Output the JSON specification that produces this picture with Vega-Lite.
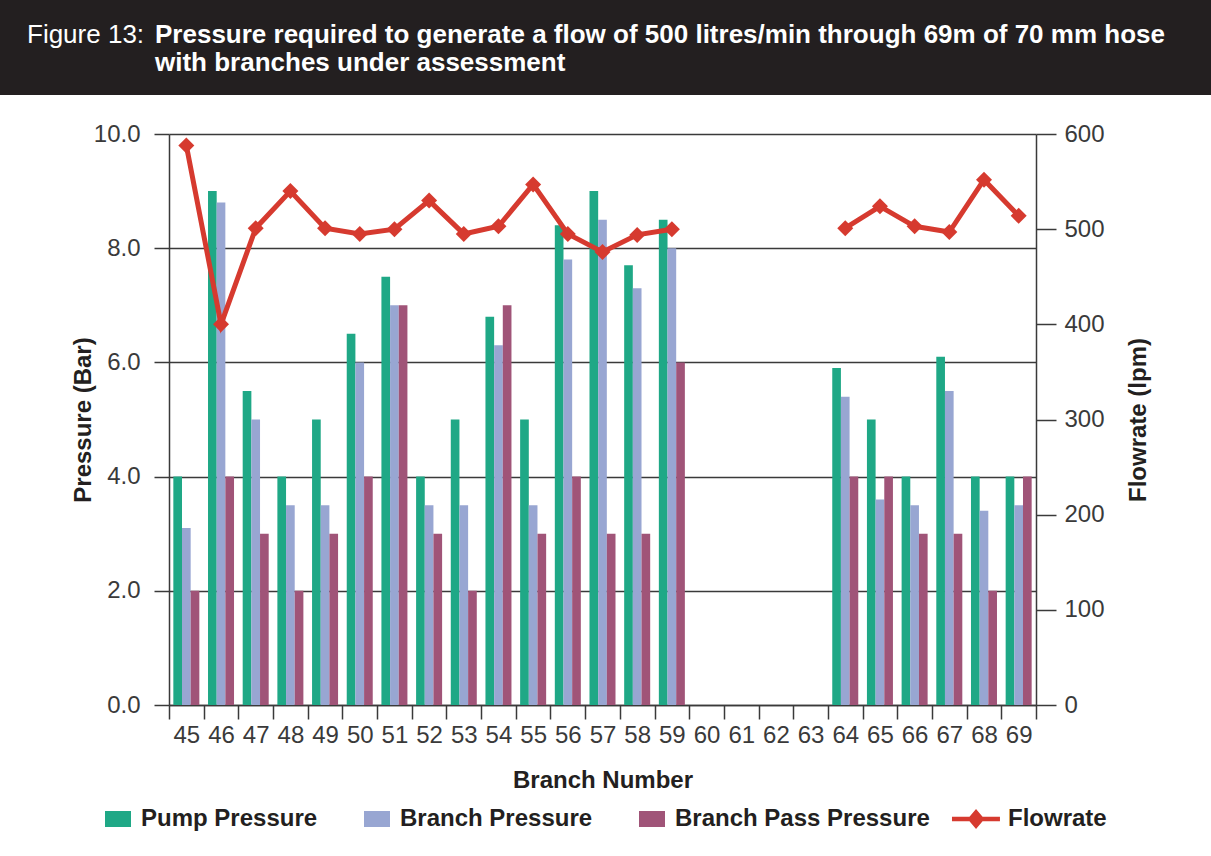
{
  "$schema": "https://vega.github.io/schema/vega-lite/v6.json",
  "padding": 0,
  "background": "white",
  "spacing": 27,
  "config": {
    "view": {"stroke": null},
    "font": "Liberation Sans",
    "axis": {"labelFont": "Liberation Sans", "titleFont": "Liberation Sans"}
  },
  "datasets": {
    "pressure": [
      {"Branch": "45", "Series": "Pump Pressure", "Pressure": 4.0},
      {"Branch": "45", "Series": "Branch Pressure", "Pressure": 3.1},
      {"Branch": "45", "Series": "Branch Pass Pressure", "Pressure": 2.0},
      {"Branch": "46", "Series": "Pump Pressure", "Pressure": 9.0},
      {"Branch": "46", "Series": "Branch Pressure", "Pressure": 8.8},
      {"Branch": "46", "Series": "Branch Pass Pressure", "Pressure": 4.0},
      {"Branch": "47", "Series": "Pump Pressure", "Pressure": 5.5},
      {"Branch": "47", "Series": "Branch Pressure", "Pressure": 5.0},
      {"Branch": "47", "Series": "Branch Pass Pressure", "Pressure": 3.0},
      {"Branch": "48", "Series": "Pump Pressure", "Pressure": 4.0},
      {"Branch": "48", "Series": "Branch Pressure", "Pressure": 3.5},
      {"Branch": "48", "Series": "Branch Pass Pressure", "Pressure": 2.0},
      {"Branch": "49", "Series": "Pump Pressure", "Pressure": 5.0},
      {"Branch": "49", "Series": "Branch Pressure", "Pressure": 3.5},
      {"Branch": "49", "Series": "Branch Pass Pressure", "Pressure": 3.0},
      {"Branch": "50", "Series": "Pump Pressure", "Pressure": 6.5},
      {"Branch": "50", "Series": "Branch Pressure", "Pressure": 6.0},
      {"Branch": "50", "Series": "Branch Pass Pressure", "Pressure": 4.0},
      {"Branch": "51", "Series": "Pump Pressure", "Pressure": 7.5},
      {"Branch": "51", "Series": "Branch Pressure", "Pressure": 7.0},
      {"Branch": "51", "Series": "Branch Pass Pressure", "Pressure": 7.0},
      {"Branch": "52", "Series": "Pump Pressure", "Pressure": 4.0},
      {"Branch": "52", "Series": "Branch Pressure", "Pressure": 3.5},
      {"Branch": "52", "Series": "Branch Pass Pressure", "Pressure": 3.0},
      {"Branch": "53", "Series": "Pump Pressure", "Pressure": 5.0},
      {"Branch": "53", "Series": "Branch Pressure", "Pressure": 3.5},
      {"Branch": "53", "Series": "Branch Pass Pressure", "Pressure": 2.0},
      {"Branch": "54", "Series": "Pump Pressure", "Pressure": 6.8},
      {"Branch": "54", "Series": "Branch Pressure", "Pressure": 6.3},
      {"Branch": "54", "Series": "Branch Pass Pressure", "Pressure": 7.0},
      {"Branch": "55", "Series": "Pump Pressure", "Pressure": 5.0},
      {"Branch": "55", "Series": "Branch Pressure", "Pressure": 3.5},
      {"Branch": "55", "Series": "Branch Pass Pressure", "Pressure": 3.0},
      {"Branch": "56", "Series": "Pump Pressure", "Pressure": 8.4},
      {"Branch": "56", "Series": "Branch Pressure", "Pressure": 7.8},
      {"Branch": "56", "Series": "Branch Pass Pressure", "Pressure": 4.0},
      {"Branch": "57", "Series": "Pump Pressure", "Pressure": 9.0},
      {"Branch": "57", "Series": "Branch Pressure", "Pressure": 8.5},
      {"Branch": "57", "Series": "Branch Pass Pressure", "Pressure": 3.0},
      {"Branch": "58", "Series": "Pump Pressure", "Pressure": 7.7},
      {"Branch": "58", "Series": "Branch Pressure", "Pressure": 7.3},
      {"Branch": "58", "Series": "Branch Pass Pressure", "Pressure": 3.0},
      {"Branch": "59", "Series": "Pump Pressure", "Pressure": 8.5},
      {"Branch": "59", "Series": "Branch Pressure", "Pressure": 8.0},
      {"Branch": "59", "Series": "Branch Pass Pressure", "Pressure": 6.0},
      {"Branch": "64", "Series": "Pump Pressure", "Pressure": 5.9},
      {"Branch": "64", "Series": "Branch Pressure", "Pressure": 5.4},
      {"Branch": "64", "Series": "Branch Pass Pressure", "Pressure": 4.0},
      {"Branch": "65", "Series": "Pump Pressure", "Pressure": 5.0},
      {"Branch": "65", "Series": "Branch Pressure", "Pressure": 3.6},
      {"Branch": "65", "Series": "Branch Pass Pressure", "Pressure": 4.0},
      {"Branch": "66", "Series": "Pump Pressure", "Pressure": 4.0},
      {"Branch": "66", "Series": "Branch Pressure", "Pressure": 3.5},
      {"Branch": "66", "Series": "Branch Pass Pressure", "Pressure": 3.0},
      {"Branch": "67", "Series": "Pump Pressure", "Pressure": 6.1},
      {"Branch": "67", "Series": "Branch Pressure", "Pressure": 5.5},
      {"Branch": "67", "Series": "Branch Pass Pressure", "Pressure": 3.0},
      {"Branch": "68", "Series": "Pump Pressure", "Pressure": 4.0},
      {"Branch": "68", "Series": "Branch Pressure", "Pressure": 3.4},
      {"Branch": "68", "Series": "Branch Pass Pressure", "Pressure": 2.0},
      {"Branch": "69", "Series": "Pump Pressure", "Pressure": 4.0},
      {"Branch": "69", "Series": "Branch Pressure", "Pressure": 3.5},
      {"Branch": "69", "Series": "Branch Pass Pressure", "Pressure": 4.0}
    ],
    "flow": [
      {"Branch": "45", "Flowrate": 588},
      {"Branch": "46", "Flowrate": 400},
      {"Branch": "47", "Flowrate": 501},
      {"Branch": "48", "Flowrate": 540},
      {"Branch": "49", "Flowrate": 501},
      {"Branch": "50", "Flowrate": 495},
      {"Branch": "51", "Flowrate": 500},
      {"Branch": "52", "Flowrate": 530},
      {"Branch": "53", "Flowrate": 495},
      {"Branch": "54", "Flowrate": 503},
      {"Branch": "55", "Flowrate": 547},
      {"Branch": "56", "Flowrate": 495},
      {"Branch": "57", "Flowrate": 476},
      {"Branch": "58", "Flowrate": 494},
      {"Branch": "59", "Flowrate": 500},
      {"Branch": "60", "Flowrate": null},
      {"Branch": "61", "Flowrate": null},
      {"Branch": "62", "Flowrate": null},
      {"Branch": "63", "Flowrate": null},
      {"Branch": "64", "Flowrate": 501},
      {"Branch": "65", "Flowrate": 524},
      {"Branch": "66", "Flowrate": 503},
      {"Branch": "67", "Flowrate": 497},
      {"Branch": "68", "Flowrate": 552},
      {"Branch": "69", "Flowrate": 514}
    ]
  },
  "vconcat": [
    {
      "spacing": 0,
      "hconcat": [
        {
          "width": 155,
          "height": 95,
          "view": {"fill": "#231f20", "stroke": null},
          "data": {"values": [{}]},
          "mark": {"type": "text"},
          "encoding": {"text": {"value": ""}},
          "title": {
            "text": "Figure 13:",
            "font": "Liberation Sans",
            "fontSize": 26,
            "fontWeight": "normal",
            "color": "white",
            "anchor": "start",
            "frame": "group",
            "orient": "top",
            "baseline": "alphabetic",
            "offset": -69,
            "dx": 27
          }
        },
        {
          "width": 1056,
          "height": 95,
          "view": {"fill": "#231f20", "stroke": null},
          "data": {"values": [{}]},
          "mark": {"type": "text"},
          "encoding": {"text": {"value": ""}},
          "title": {
            "text": ["Pressure required to generate a flow of 500 litres/min through 69m of 70 mm hose", "with branches under assessment"],
            "font": "Liberation Sans",
            "fontSize": 26,
            "fontWeight": "bold",
            "color": "white",
            "anchor": "start",
            "frame": "group",
            "orient": "top",
            "baseline": "alphabetic",
            "lineHeight": 28,
            "offset": -97,
            "dx": 0
          }
        }
      ]
    },
    {
      "spacing": 0,
      "hconcat": [
        {
          "width": 71,
          "height": 10,
          "data": {"values": [{}]},
          "mark": {"type": "text"},
          "encoding": {"text": {"value": ""}}
        },
        {
          "width": 867,
          "height": 571,
          "resolve": {"scale": {"y": "independent"}},
          "layer": [
            {
              "data": {"name": "pressure"},
              "mark": {"type": "bar"},
              "encoding": {
                "x": {
                  "field": "Branch",
                  "type": "ordinal",
                  "scale": {
                    "domain": ["45","46","47","48","49","50","51","52","53","54","55","56","57","58","59","60","61","62","63","64","65","66","67","68","69"],
                    "paddingInner": 0,
                    "paddingOuter": 0
                  },
                  "axis": {
                    "title": "Branch Number",
                    "titleFontSize": 24,
                    "titleFontWeight": "bold",
                    "titleColor": "#231f20",
                    "titlePadding": 21,
                    "labelAngle": 0,
                    "labelFontSize": 24,
                    "labelColor": "#3a3a3a",
                    "labelPadding": 4,
                    "tickBand": "extent",
                    "tickSize": 14,
                    "tickColor": "#3a3a3a",
                    "tickWidth": 1.5,
                    "domainColor": "#3a3a3a",
                    "domainWidth": 1.5,
                    "grid": false
                  }
                },
                "xOffset": {
                  "field": "Series",
                  "type": "nominal",
                  "scale": {
                    "domain": ["Pump Pressure", "Branch Pressure", "Branch Pass Pressure"],
                    "paddingInner": 0,
                    "paddingOuter": 0.5
                  }
                },
                "y": {
                  "field": "Pressure",
                  "type": "quantitative",
                  "scale": {"domain": [0, 10], "nice": false},
                  "axis": {
                    "title": "Pressure (Bar)",
                    "titleFontSize": 24,
                    "titleFontWeight": "bold",
                    "titleColor": "#231f20",
                    "titleX": -86,
                    "titleBaseline": "middle",
                    "values": [0, 2, 4, 6, 8, 10],
                    "format": ".1f",
                    "labelFontSize": 24,
                    "labelColor": "#3a3a3a",
                    "labelPadding": 14,
                    "tickSize": 15,
                    "tickColor": "#3a3a3a",
                    "tickWidth": 1.5,
                    "domainColor": "#3a3a3a",
                    "domainWidth": 1.5,
                    "grid": true,
                    "gridColor": "#3a3a3a",
                    "gridWidth": 1.5
                  }
                },
                "color": {
                  "field": "Series",
                  "type": "nominal",
                  "scale": {
                    "domain": ["Pump Pressure", "Branch Pressure", "Branch Pass Pressure", "Flowrate"],
                    "range": ["#1fa886", "#98a6d2", "#a05478", "#d63a2f"]
                  },
                  "legend": {
                    "orient": "none",
                    "legendX": 105,
                    "legendY": 806,
                    "direction": "horizontal",
                    "title": null,
                    "labelFont": "Liberation Sans",
                    "labelFontSize": 24,
                    "labelFontWeight": "bold",
                    "labelColor": "#231f20",
                    "labelLimit": 400,
                    "labelOffset": 10,
                    "symbolSize": 676,
                    "symbolStrokeWidth": 0,
                    "columnPadding": 21,
                    "encode": {
                      "symbols": {
                        "update": {
                          "shape": {"signal": "datum.value === 'Flowrate' ? 'M-2.54,-0.17H1.15V0.17H-2.54Z M-0.69,-0.77L-0.04,0L-0.69,0.77L-1.34,0Z' : 'M-2.923,0L-2.923,0M-1,-0.615H1V0.615H-1Z'"}
                        }
                      }
                    }
                  }
                }
              }
            },
            {
              "data": {"name": "flow"},
              "encoding": {
                "x": {"field": "Branch", "type": "ordinal"},
                "y": {
                  "field": "Flowrate",
                  "type": "quantitative",
                  "scale": {"domain": [0, 600], "nice": false},
                  "axis": {
                    "orient": "right",
                    "title": "Flowrate (lpm)",
                    "titleFontSize": 24,
                    "titleFontWeight": "bold",
                    "titleColor": "#231f20",
                    "titleAngle": 270,
                    "titleX": 102,
                    "titleBaseline": "middle",
                    "values": [0, 100, 200, 300, 400, 500, 600],
                    "labelFontSize": 24,
                    "labelColor": "#3a3a3a",
                    "labelPadding": 8,
                    "tickSize": 20,
                    "tickColor": "#3a3a3a",
                    "tickWidth": 1.5,
                    "domainColor": "#3a3a3a",
                    "domainWidth": 1.5,
                    "grid": false
                  }
                }
              },
              "layer": [
                {
                  "mark": {"type": "line", "color": "#d63a2f", "strokeWidth": 5, "invalid": "break-paths-show-domains"}
                },
                {
                  "mark": {"type": "point", "shape": "diamond", "filled": true, "size": 256, "color": "#d63a2f", "opacity": 1}
                }
              ]
            }
          ]
        }
      ]
    }
  ]
}
